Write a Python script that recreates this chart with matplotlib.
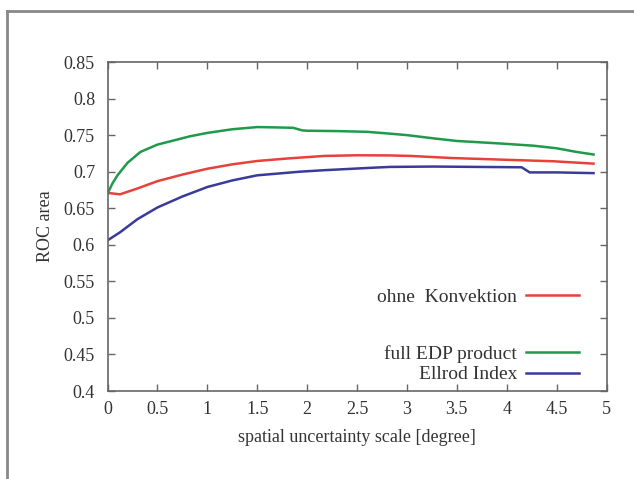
import matplotlib
matplotlib.use("Agg")
import matplotlib.pyplot as plt
from matplotlib.lines import Line2D
import numpy as np

# ---- data ----
x_green = [0.0, 0.05, 0.1, 0.2, 0.33, 0.5, 0.83, 1.0, 1.25, 1.5, 1.7, 1.86, 1.95, 2.0, 2.3, 2.6, 2.83, 3.0, 3.27, 3.5, 3.94, 4.27, 4.5, 4.7, 4.87]
y_green = [0.670, 0.684, 0.695, 0.712, 0.727, 0.737, 0.7485, 0.753, 0.758, 0.761, 0.7605, 0.760, 0.7565, 0.756, 0.7555, 0.7545, 0.752, 0.750, 0.7455, 0.742, 0.7385, 0.7355, 0.732, 0.727, 0.7235]

x_red = [0.0, 0.125, 0.3, 0.5, 0.75, 1.0, 1.25, 1.5, 1.8, 2.17, 2.5, 2.83, 3.04, 3.44, 3.94, 4.47, 4.87]
y_red = [0.671, 0.669, 0.677, 0.687, 0.696, 0.704, 0.710, 0.7146, 0.718, 0.7215, 0.7224, 0.7222, 0.7215, 0.7187, 0.7165, 0.7142, 0.711]

x_blue = [0.0, 0.125, 0.3, 0.5, 0.75, 1.0, 1.25, 1.5, 1.93, 2.17, 2.6, 2.83, 3.27, 3.7, 4.15, 4.23, 4.5, 4.87]
y_blue = [0.606, 0.617, 0.635, 0.651, 0.666, 0.679, 0.688, 0.695, 0.700, 0.702, 0.705, 0.7065, 0.707, 0.7065, 0.706, 0.699, 0.699, 0.698]

xticks = [0, 0.5, 1, 1.5, 2, 2.5, 3, 3.5, 4, 4.5, 5]
xticklabels = ["0", "0.5", "1", "1.5", "2", "2.5", "3", "3.5", "4", "4.5", "5"]
yticks = [0.4, 0.45, 0.5, 0.55, 0.6, 0.65, 0.7, 0.75, 0.8, 0.85]
yticklabels = ["0.4", "0.45", "0.5", "0.55", "0.6", "0.65", "0.7", "0.75", "0.8", "0.85"]

plt.rcParams['font.family'] = ['Liberation Serif', 'DejaVu Serif']
plt.rcParams['font.size'] = 13

fig = plt.figure(figsize=(6.34, 4.79), dpi=100)
W, H = 634, 479
ax = fig.add_axes([107.5 / W, 1 - 391 / H, (606.5 - 107.5) / W, (391 - 62) / H])

c_red = "#e8413a"
c_green = "#1f9a4a"
c_blue = "#3a3a9a"

l_red, = ax.plot(x_red, y_red, color=c_red, lw=1.8)
l_green, = ax.plot(x_green, y_green, color=c_green, lw=1.8)
l_blue, = ax.plot(x_blue, y_blue, color=c_blue, lw=1.8)

ax.set_xlim(0, 5)
ax.set_ylim(0.4, 0.85)
ax.set_xticks(xticks)
ax.set_xticklabels(xticklabels)
ax.set_yticks(yticks)
ax.set_yticklabels(yticklabels)
ax.tick_params(direction='in', top=True, right=True, length=5, width=1,
               color='#666666', labelcolor='#333333', labelsize=13)
ax.tick_params(axis='y', pad=9)
ax.tick_params(axis='x', pad=7)
for s in ax.spines.values():
    s.set_color('#666666')
    s.set_linewidth(1.2)

ax.set_xlabel("spatial uncertainty scale [degree]", color='#333333', fontsize=13, labelpad=8)
ax.set_ylabel("ROC area", color='#333333', fontsize=13, labelpad=7)

leg1 = ax.legend([l_red], ["ohne  Konvektion"], loc='center right',
                 bbox_to_anchor=(0.979, 0.285), frameon=False, markerfirst=False,
                 handlelength=2.7, handletextpad=0.45, fontsize=14, labelcolor='#333333')
ax.add_artist(leg1)
leg2 = ax.legend([l_green, l_blue], ["full EDP product", "Ellrod Index"], loc='lower right',
                 bbox_to_anchor=(0.979, -0.03), frameon=False, markerfirst=False,
                 handlelength=2.7, handletextpad=0.45, fontsize=14, labelspacing=0.15,
                 labelcolor='#333333')

# outer frame (top and left edges visible)
fig.add_artist(Line2D([7 / W, 7 / W], [0, 1 - 11 / H], transform=fig.transFigure,
                      color='#888888', lw=2))
fig.add_artist(Line2D([7 / W, 1], [1 - 11 / H, 1 - 11 / H], transform=fig.transFigure,
                      color='#888888', lw=2))

fig.savefig("out.png", dpi=100)
